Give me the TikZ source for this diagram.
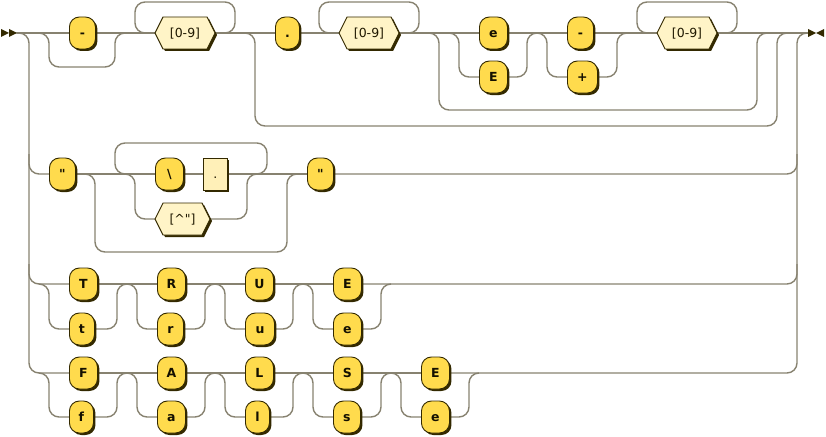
\documentclass[tikz,border=0pt]{standalone}
\usepackage{fontspec}
\setmainfont{DejaVu Sans}[Ligatures=TeXOff]
\usetikzlibrary{shadows}

\definecolor{ink}{HTML}{332900}
\definecolor{termfill}{HTML}{FFDB4D}
\definecolor{rxfill}{HTML}{FFF4C7}
\definecolor{wildfill}{HTML}{FFF0B8}
\definecolor{railc}{HTML}{878270}
\definecolor{termtext}{HTML}{141000}
\definecolor{rxtext}{HTML}{1F1800}

\pgfdeclarelayer{rails}
\pgfsetlayers{rails,main}

\tikzset{
  rail/.style={draw=railc, line width=1.4pt, rounded corners=10pt},
  boxshadow/.style={drop shadow={shadow xshift=2pt, shadow yshift=-2pt, fill=ink, opacity=1}},
  term/.style={rectangle, rounded corners=10pt, draw=ink, line width=0.9pt,
    fill=termfill, minimum height=32pt, inner sep=0pt, anchor=west,
    text=termtext, text height=9pt, text depth=0pt,
    font=\fontsize{12.5}{14}\selectfont\bfseries, boxshadow},
  wild/.style={rectangle, draw=ink, line width=0.9pt, fill=wildfill,
    minimum height=32pt, inner sep=0pt, anchor=west,
    text=rxtext, text height=9pt, text depth=0pt,
    font=\fontsize{12.5}{14}\selectfont, boxshadow},
  hexlabel/.style={rectangle, minimum height=32pt, inner sep=0pt,
    text=rxtext, text height=9pt, text depth=0pt,
    font=\fontsize{12.5}{14}\selectfont},
}

% character-class hexagon: name, left x, line y, width, label
\newcommand\rrhex[5]{%
  \fill[ink] (#2+2,#3+2) -- (#2+10,#3-14) -- (#2+#4-6,#3-14) -- (#2+#4+2,#3+2)
    -- (#2+#4-6,#3+18) -- (#2+10,#3+18) -- cycle;
  \filldraw[draw=ink, fill=rxfill, line width=0.9pt] (#2,#3) -- (#2+8,#3-16)
    -- (#2+#4-8,#3-16) -- (#2+#4,#3) -- (#2+#4-8,#3+16) -- (#2+8,#3+16) -- cycle;
  \node[hexlabel, minimum width=#4pt] (#1) at (#2+#4/2,#3) {#5};
}

\begin{document}
\begin{tikzpicture}[x=1pt, y=-1pt]
\useasboundingbox (0,0) rectangle (826,436);

% entry and exit markers
\fill[ink] (1,29) -- (9,33) -- (1,37) -- cycle;
\fill[ink] (9,29) -- (17,33) -- (9,37) -- cycle;
\fill[ink] (808,29) -- (816,33) -- (808,37) -- cycle;
\fill[ink] (824,29) -- (816,33) -- (824,37) -- cycle;
\coordinate (start) at (17,33);
\coordinate (finish) at (808,33);

% number
\node[term, minimum width=26pt] (minus) at (69,33) {-};
\rrhex{int}{155}{33}{60}{[0-9]}
\node[term, minimum width=24pt] (point) at (275,33) {.};
\rrhex{frac}{339}{33}{60}{[0-9]}
\node[term, minimum width=28pt] (elow) at (479,33) {e};
\node[term, minimum width=28pt] (eup) at (479,77) {E};
\node[term, minimum width=26pt] (neg) at (567,33) {-};
\node[term, minimum width=30pt] (pos) at (567,77) {+};
\rrhex{expo}{657}{33}{60}{[0-9]}

% string
\node[term, minimum width=26pt] (q1) at (49,174) {"};
\node[term, minimum width=28pt] (bsl) at (155,174) {\textbackslash};
\node[wild, minimum width=24pt] (any) at (203,174) {.};
\rrhex{notq}{155}{219}{55}{[\textasciicircum"]}
\node[term, minimum width=26pt] (q2) at (307,174) {"};

% true
\node[term, minimum width=28pt] (T1) at (69,284) {T};
\node[term, minimum width=28pt] (R1) at (157,284) {R};
\node[term, minimum width=28pt] (U1) at (245,284) {U};
\node[term, minimum width=28pt] (E1) at (333,284) {E};
\node[term, minimum width=25pt] (t1) at (69,329) {t};
\node[term, minimum width=26pt] (r1) at (157,329) {r};
\node[term, minimum width=29pt] (u1) at (245,329) {u};
\node[term, minimum width=28pt] (e1) at (333,329) {e};

% false
\node[term, minimum width=28pt] (F2) at (69,373) {F};
\node[term, minimum width=28pt] (A2) at (157,373) {A};
\node[term, minimum width=28pt] (L2) at (245,373) {L};
\node[term, minimum width=28pt] (S2) at (333,373) {S};
\node[term, minimum width=28pt] (E2) at (421,373) {E};
\node[term, minimum width=24pt] (f2) at (69,417) {f};
\node[term, minimum width=28pt] (a2) at (157,417) {a};
\node[term, minimum width=24pt] (l2) at (245,417) {l};
\node[term, minimum width=27pt] (s2) at (333,417) {s};
\node[term, minimum width=28pt] (e2) at (421,417) {e};

\begin{pgfonlayer}{rails}
  % outer choice rails
  \draw[rail] (start) -- (19,33) -| (29,373) -- (F2.west);
  \draw[rail] (E2.east) -| (797,33) -- (finish);

  % number
  \draw[rail] (start) -- (minus.west);
  \draw[rail] (minus.east) -- (int.west);
  \draw[rail] (int.east) -- (point.west);
  \draw[rail] (point.east) -- (frac.west);
  \draw[rail] (frac.east) -- (elow.west);
  \draw[rail] (elow.east) -- (neg.west);
  \draw[rail] (neg.east) -- (expo.west);
  \draw[rail] (expo.east) -- (finish);
  \draw[rail] (39,33) -| (49,67) -| (115,33) -- (125,33);
  \draw[rail] (225,33) -| (235,2) -| (135,33) -- (145,33);
  \draw[rail] (245,33) -| (255,126) -| (777,33) -- (787,33);
  \draw[rail] (409,33) -| (419,2) -| (319,33) -- (329,33);
  \draw[rail] (429,33) -| (439,110) -| (757,33) -- (767,33);
  \draw[rail] (449,33) -| (459,77) -- (eup.west);
  \draw[rail] (eup.east) -| (527,33) -- (537,33);
  \draw[rail] (537,33) -| (547,77) -- (pos.west);
  \draw[rail] (pos.east) -| (617,33) -- (627,33);
  \draw[rail] (727,33) -| (737,2) -| (637,33) -- (647,33);

  % string
  \draw[rail] (29,154) |- (q1.west);
  \draw[rail] (q1.east) -- (bsl.west);
  \draw[rail] (bsl.east) -- (any.west);
  \draw[rail] (any.east) -- (q2.west);
  \draw[rail] (q2.east) -| (797,154);
  \draw[rail] (85,174) -| (95,252) -| (287,174) -- (297,174);
  \draw[rail] (257,174) -| (267,143) -| (115,174) -- (125,174);
  \draw[rail] (125,174) -| (135,219) -- (notq.west);
  \draw[rail] (notq.east) -| (247,174) -- (257,174);

  % true
  \draw[rail] (29,264) |- (T1.west);
  \draw[rail] (T1.east) -- (R1.west);
  \draw[rail] (R1.east) -- (U1.west);
  \draw[rail] (U1.east) -- (E1.west);
  \draw[rail] (E1.east) -| (797,264);
  \foreach \sx/\lo in {39/t1,127/r1,215/u1,303/e1} {
    \draw[rail] (\sx,284) -| (\sx+10,329) -- (\lo.west);
    \draw[rail] (\lo.east) -| (\sx+78,284) -- (\sx+88,284);
  }

  % false
  \draw[rail] (F2.east) -- (A2.west);
  \draw[rail] (A2.east) -- (L2.west);
  \draw[rail] (L2.east) -- (S2.west);
  \draw[rail] (S2.east) -- (E2.west);
  \foreach \sx/\lo in {39/f2,127/a2,215/l2,303/s2,391/e2} {
    \draw[rail] (\sx,373) -| (\sx+10,417) -- (\lo.west);
    \draw[rail] (\lo.east) -| (\sx+78,373) -- (\sx+88,373);
  }
\end{pgfonlayer}
\end{tikzpicture}
\end{document}
